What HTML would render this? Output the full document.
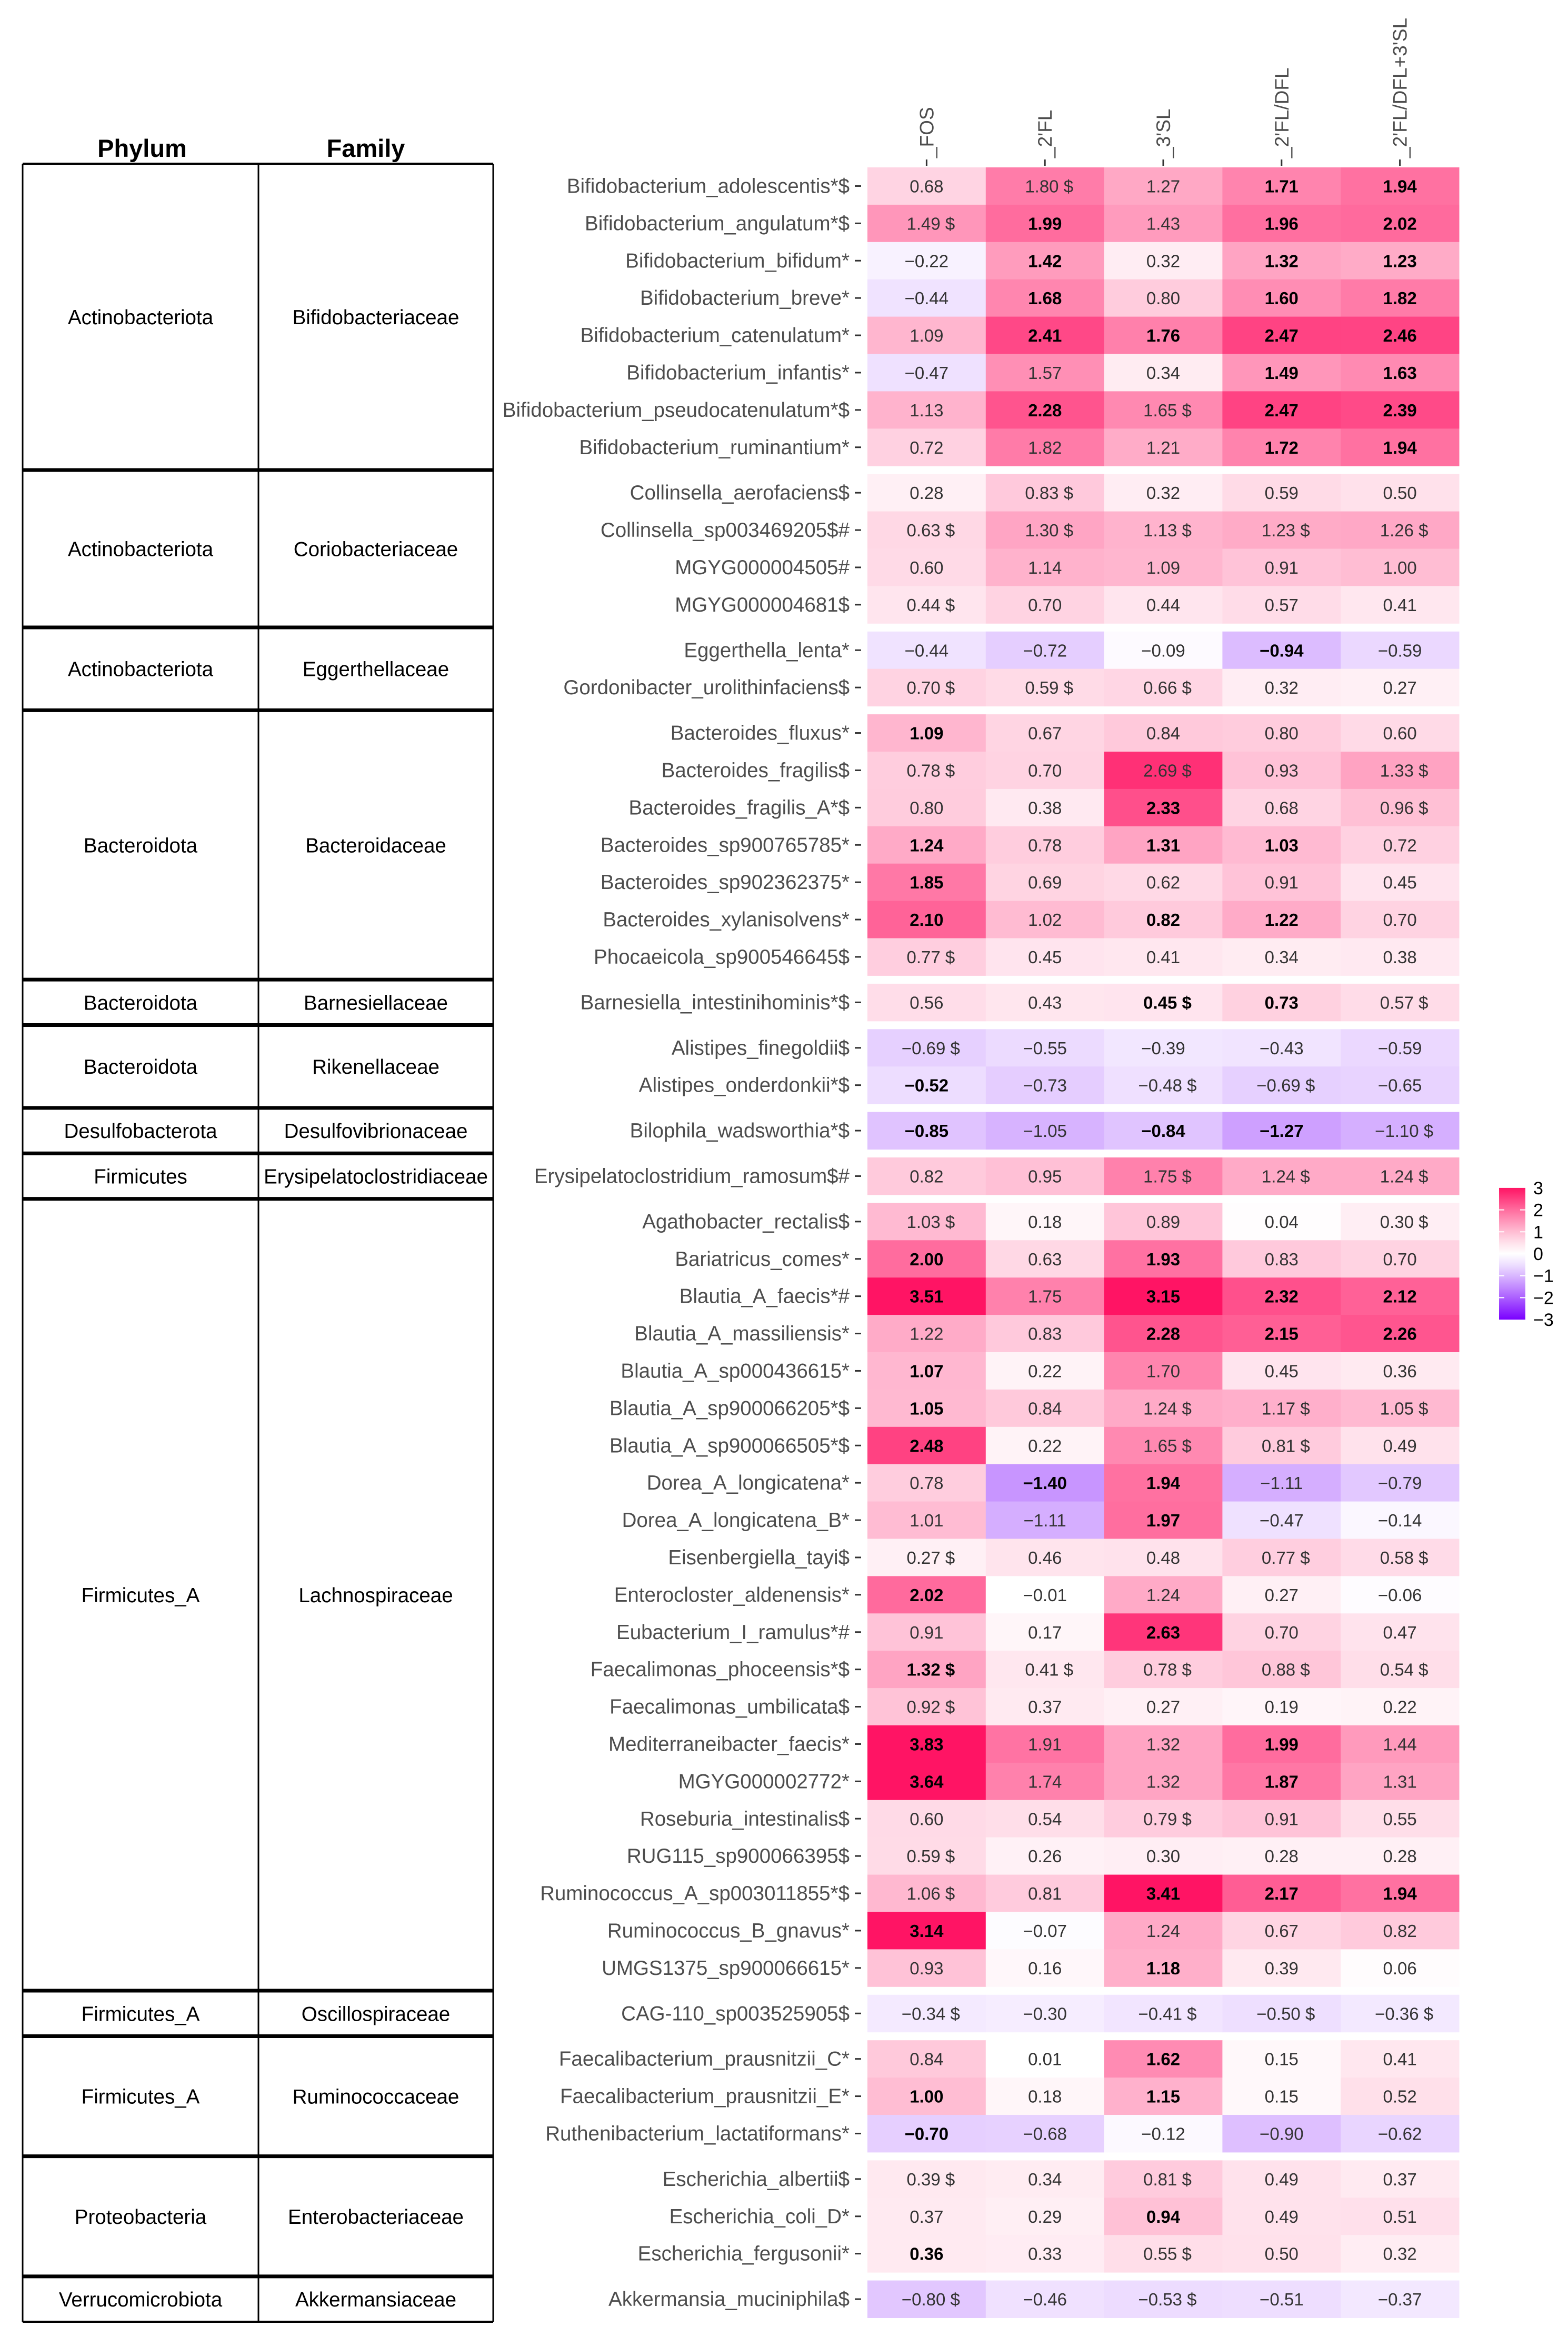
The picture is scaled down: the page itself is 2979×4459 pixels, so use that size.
<!DOCTYPE html>
<html><head><meta charset="utf-8"><style>
html,body{margin:0;padding:0;background:#fff}
svg{display:block}
text{font-family:"Liberation Sans",sans-serif}
</style></head><body>
<svg id="chart" width="2979" height="4459" viewBox="0 0 2979 4459" xmlns="http://www.w3.org/2000/svg">
<rect width="2979" height="4459" fill="#fff"/>
<g id="table"></g>
<g id="rowlabels"></g>
<g id="collabels"></g>
<g id="cells"></g>
<g id="legend"></g>
</svg>
<script>
const columns = ["_FOS","_2'FL","_3'SL","_2'FL/DFL","_2'FL/DFL+3'SL"];
const species = ["Bifidobacterium_adolescentis*$","Bifidobacterium_angulatum*$","Bifidobacterium_bifidum*","Bifidobacterium_breve*","Bifidobacterium_catenulatum*","Bifidobacterium_infantis*","Bifidobacterium_pseudocatenulatum*$","Bifidobacterium_ruminantium*",
"Collinsella_aerofaciens$","Collinsella_sp003469205$#","MGYG000004505#","MGYG000004681$",
"Eggerthella_lenta*","Gordonibacter_urolithinfaciens$",
"Bacteroides_fluxus*","Bacteroides_fragilis$","Bacteroides_fragilis_A*$","Bacteroides_sp900765785*","Bacteroides_sp902362375*","Bacteroides_xylanisolvens*","Phocaeicola_sp900546645$",
"Barnesiella_intestinihominis*$",
"Alistipes_finegoldii$","Alistipes_onderdonkii*$",
"Bilophila_wadsworthia*$",
"Erysipelatoclostridium_ramosum$#",
"Agathobacter_rectalis$","Bariatricus_comes*","Blautia_A_faecis*#","Blautia_A_massiliensis*","Blautia_A_sp000436615*","Blautia_A_sp900066205*$","Blautia_A_sp900066505*$","Dorea_A_longicatena*","Dorea_A_longicatena_B*","Eisenbergiella_tayi$","Enterocloster_aldenensis*","Eubacterium_I_ramulus*#","Faecalimonas_phoceensis*$","Faecalimonas_umbilicata$","Mediterraneibacter_faecis*","MGYG000002772*","Roseburia_intestinalis$","RUG115_sp900066395$","Ruminococcus_A_sp003011855*$","Ruminococcus_B_gnavus*","UMGS1375_sp900066615*",
"CAG-110_sp003525905$",
"Faecalibacterium_prausnitzii_C*","Faecalibacterium_prausnitzii_E*","Ruthenibacterium_lactatiformans*",
"Escherichia_albertii$","Escherichia_coli_D*","Escherichia_fergusonii*",
"Akkermansia_muciniphila$"];
const valFOS = [0.68,1.49,-0.22,-0.44,1.09,-0.47,1.13,0.72, 0.28,0.63,0.60,0.44, -0.44,0.70, 1.09,0.78,0.80,1.24,1.85,2.10,0.77, 0.56, -0.69,-0.52, -0.85, 0.82, 1.03,2.00,3.51,1.22,1.07,1.05,2.48,0.78,1.01,0.27,2.02,0.91,1.32,0.92,3.83,3.64,0.60,0.59,1.06,3.14,0.93, -0.34, 0.84,1.00,-0.70, 0.39,0.37,0.36, -0.80];
const val2FL = [1.80,1.99,1.42,1.68,2.41,1.57,2.28,1.82, 0.83,1.30,1.14,0.70, -0.72,0.59, 0.67,0.70,0.38,0.78,0.69,1.02,0.45, 0.43, -0.55,-0.73, -1.05, 0.95, 0.18,0.63,1.75,0.83,0.22,0.84,0.22,-1.40,-1.11,0.46,-0.01,0.17,0.41,0.37,1.91,1.74,0.54,0.26,0.81,-0.07,0.16, -0.30, 0.01,0.18,-0.68, 0.34,0.29,0.33, -0.46];
const val3SL = [1.27,1.43,0.32,0.80,1.76,0.34,1.65,1.21, 0.32,1.13,1.09,0.44, -0.09,0.66, 0.84,2.69,2.33,1.31,0.62,0.82,0.41, 0.45, -0.39,-0.48, -0.84, 1.75, 0.89,1.93,3.15,2.28,1.70,1.24,1.65,1.94,1.97,0.48,1.24,2.63,0.78,0.27,1.32,1.32,0.79,0.30,3.41,1.24,1.18, -0.41, 1.62,1.15,-0.12, 0.81,0.94,0.55, -0.53];
const valFLDFL = [1.71,1.96,1.32,1.60,2.47,1.49,2.47,1.72, 0.59,1.23,0.91,0.57, -0.94,0.32, 0.80,0.93,0.68,1.03,0.91,1.22,0.34, 0.73, -0.43,-0.69, -1.27, 1.24, 0.04,0.83,2.32,2.15,0.45,1.17,0.81,-1.11,-0.47,0.77,0.27,0.70,0.88,0.19,1.99,1.87,0.91,0.28,2.17,0.67,0.39, -0.50, 0.15,0.15,-0.90, 0.49,0.49,0.50, -0.51];
const valFLDFLSL = [1.94,2.02,1.23,1.82,2.46,1.63,2.39,1.94, 0.50,1.26,1.00,0.41, -0.59,0.27, 0.60,1.33,0.96,0.72,0.45,0.70,0.38, 0.57, -0.59,-0.65, -1.10, 1.24, 0.30,0.70,2.12,2.26,0.36,1.05,0.49,-0.79,-0.14,0.58,-0.06,0.47,0.54,0.22,1.44,1.31,0.55,0.28,1.94,0.82,0.06, -0.36, 0.41,0.52,-0.62, 0.37,0.51,0.32, -0.37];
const dollarFlags = ["01000","10000","00000","00000","00000","00000","00100","00000", "01000","11111","00000","10000", "00000","11100", "00000","10101","00001","00000","00000","00000","10000", "00101", "10000","00110", "00001", "00111", "10001","00000","00000","00000","00000","00111","00110","00000","00000","10011","00000","00000","11111","10000","00000","00000","00100","10000","10000","00000","00000", "10111", "00000","00000","00000", "10100","00000","00100", "10100"];
const boldFlags = ["00011","01011","01011","01011","01111","00011","01011","00011", "00000","00000","00000","00000", "00010","00000", "10000","00000","00100","10110","10000","10110","00000", "00110", "00000","10000", "10110", "00000", "00000","10100","10111","00111","10000","10000","10000","01100","00100","00000","10000","00100","10000","00000","10010","10010","00000","00000","00111","10000","00100", "00000", "00100","10100","10000", "00000","00100","10000", "00000"];
const groupPhylum = ["Actinobacteriota","Actinobacteriota","Actinobacteriota","Bacteroidota","Bacteroidota","Bacteroidota","Desulfobacterota","Firmicutes","Firmicutes_A","Firmicutes_A","Firmicutes_A","Proteobacteria","Verrucomicrobiota"];
const groupFamily = ["Bifidobacteriaceae","Coriobacteriaceae","Eggerthellaceae","Bacteroidaceae","Barnesiellaceae","Rikenellaceae","Desulfovibrionaceae","Erysipelatoclostridiaceae","Lachnospiraceae","Oscillospiraceae","Ruminococcaceae","Enterobacteriaceae","Akkermansiaceae"];
const groupSizes = [8,4,2,7,1,2,1,1,21,1,3,3,1];
const legendTicks = [3,2,1,0,-1,-2,-3];

const NS="http://www.w3.org/2000/svg";
function mk(tag, attrs, parent){const e=document.createElementNS(NS,tag);for(const k in attrs)e.setAttribute(k,attrs[k]);parent.appendChild(e);return e;}
const series=[valFOS,val2FL,val3SL,valFLDFL,valFLDFLSL];
const X0=1648, CW=224.8, Y0=318, RH=70.9, GAP=15.5;
const xScale = c => X0 + c*CW;
const rowGroup=[]; groupSizes.forEach((n,g)=>{for(let i=0;i<n;i++)rowGroup.push(g);});
const yScale = r => Y0 + r*RH + rowGroup[r]*GAP;
function color(v){
  let t=Math.min(1,Math.abs(v)/3); t=Math.pow(t,1.15);
  const end = v>=0 ? [255,20,100] : [122,0,255];
  const c=end.map(e=>Math.round(255+(e-255)*t));
  return `rgb(${c[0]},${c[1]},${c[2]})`;
}
function fmt(v){const s=Math.abs(v).toFixed(2);return (v<0?"\u2212":"")+s;}

const cg=document.getElementById('cells');
for(let r=0;r<species.length;r++){
  for(let c=0;c<5;c++){
    const v=series[c][r];
    const rc=mk('rect',{x:xScale(c),y:yScale(r),width:CW+0.5,height:RH+0.5,fill:color(v)},cg);
    
    
    const bold=boldFlags[r][c]==='1', dol=dollarFlags[r][c]==='1';
    const t=mk('text',{x:xScale(c)+CW/2+(dol?8:0),y:yScale(r)+RH/2+12,'text-anchor':'middle','font-size':33,fill:bold?'#000':'#333','font-weight':bold?'bold':'normal'},cg);
    t.textContent=fmt(v)+(dol?" $":"");
    
    
  }
}
const rl=document.getElementById('rowlabels');
species.forEach((s,r)=>{
  const cy=yScale(r)+RH/2;
  const t=mk('text',{x:1614,y:cy+13,'text-anchor':'end','font-size':38.5,fill:'#4d4d4d'},rl);
  t.textContent=s;
  
  
  mk('line',{x1:1624,x2:1636,y1:cy,y2:cy,stroke:'#333','stroke-width':3},rl);
});
const cl=document.getElementById('collabels');
columns.forEach((s,c)=>{
  const cx=xScale(c)+CW/2;
  const t=mk('text',{x:cx+13,y:300,'font-size':37,fill:'#4d4d4d',transform:`rotate(-90 ${cx+13} 300)`},cl);
  t.textContent=s;
  
  
  mk('line',{x1:cx,x2:cx,y1:303,y2:315,stroke:'#333','stroke-width':3},cl);
});
const tb=document.getElementById('table');
const TL=43, TM=491, TR=937;
let h1=mk('text',{x:270,y:298,'text-anchor':'middle','font-size':47,'font-weight':'bold',fill:'#000'},tb); h1.textContent='Phylum';
 
let h2=mk('text',{x:695,y:298,'text-anchor':'middle','font-size':47,'font-weight':'bold',fill:'#000'},tb); h2.textContent='Family';
 
let start=0; const bounds=[];
groupSizes.forEach((n,g)=>{
  const top = g===0 ? 311 : yScale(start)-GAP/2;
  const last=start+n-1;
  const bot = g===groupSizes.length-1 ? 4411 : yScale(last)+RH+GAP/2;
  bounds.push([top,bot]);
  const mid=(top+bot)/2;
  const p=mk('text',{x:(TL+TM)/2,y:mid+14,'text-anchor':'middle','font-size':38.5,fill:'#000'},tb); p.textContent=groupPhylum[g];
   
  const f=mk('text',{x:(TM+TR)/2,y:mid+14,'text-anchor':'middle','font-size':38.5,fill:'#000'},tb); f.textContent=groupFamily[g];
   
  start+=n;
});
mk('line',{x1:TL,x2:TL,y1:311,y2:4411,stroke:'#000','stroke-width':3},tb);
mk('line',{x1:TM,x2:TM,y1:311,y2:4411,stroke:'#000','stroke-width':3},tb);
mk('line',{x1:TR,x2:TR,y1:311,y2:4411,stroke:'#000','stroke-width':3},tb);
mk('line',{x1:TL,x2:TR,y1:311,y2:311,stroke:'#000','stroke-width':4},tb);
mk('line',{x1:TL,x2:TR,y1:4411,y2:4411,stroke:'#000','stroke-width':4},tb);
bounds.slice(1).forEach(b=>mk('line',{x1:TL,x2:TR,y1:b[0],y2:b[0],stroke:'#000','stroke-width':7},tb));
const lg=document.getElementById('legend');
const defs=mk('defs',{},lg);
const grad=mk('linearGradient',{id:'lgrad',x1:0,y1:0,x2:0,y2:1},defs);
for(let i=0;i<=12;i++){const v=3-i*0.5;mk('stop',{offset:(i/12),'stop-color':color(v)},grad);}
const ly=v=>2382-v*41.7;
mk('rect',{x:2848,y:ly(3),width:50,height:ly(-3)-ly(3),fill:'url(#lgrad)'},lg);
legendTicks.forEach(v=>{
  const y=ly(v);
  if(v!==3&&v!==-3){mk('line',{x1:2848,x2:2858,y1:y,y2:y,stroke:'#fff','stroke-width':2},lg);mk('line',{x1:2888,x2:2898,y1:y,y2:y,stroke:'#fff','stroke-width':2},lg);}
  const t=mk('text',{x:2913,y:y+12,'font-size':34,fill:'#000'},lg);
  t.textContent=(v<0?"\u2212":"")+Math.abs(v);
  
  
});
</script>
</body></html>
